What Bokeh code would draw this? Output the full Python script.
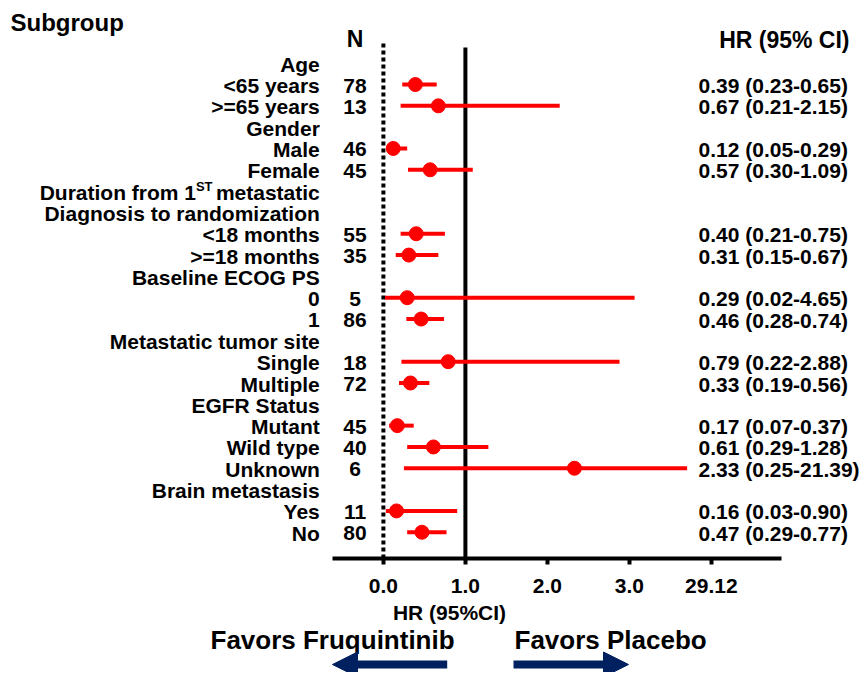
from bokeh.plotting import figure
from bokeh.models import Range1d, LinearAxis, FixedTicker, Arrow, NormalHead, ColumnDataSource
from bokeh.core.properties import value
from bokeh.embed import file_html
from bokeh.resources import INLINE

# ---------------- data ----------------
group_headers = [
    ["Age"],
    ["Gender"],
    ["Duration from 1ST metastatic", "Diagnosis to randomization"],
    ["Baseline ECOG PS"],
    ["Metastatic tumor site"],
    ["EGFR Status"],
    ["Brain metastasis"],
]
group_sizes = [2, 2, 2, 2, 2, 3, 2]
subgroups = ["<65 years", ">=65 years", "Male", "Female", "<18 months", ">=18 months",
             "0", "1", "Single", "Multiple", "Mutant", "Wild type", "Unknown", "Yes", "No"]
n_patients = [78, 13, 46, 45, 55, 35, 5, 86, 18, 72, 45, 40, 6, 11, 80]
hr = [0.39, 0.67, 0.12, 0.57, 0.40, 0.31, 0.29, 0.46, 0.79, 0.33, 0.17, 0.61, 2.33, 0.16, 0.47]
ci_low = [0.23, 0.21, 0.05, 0.30, 0.21, 0.15, 0.02, 0.28, 0.22, 0.19, 0.07, 0.29, 0.25, 0.03, 0.29]
ci_high = [0.65, 2.15, 0.29, 1.09, 0.75, 0.67, 4.65, 0.74, 2.88, 0.56, 0.37, 1.28, 21.39, 0.90, 0.77]
tick_values = [0.0, 1.0, 2.0, 3.0, 29.12]
tick_labels = ["0.0", "1.0", "2.0", "3.0", "29.12"]

# broken axis: linear up to 3, compressed between 3 and 29.12
def axis_pos(v):
    if v <= 3.0:
        return v
    return 3.0 + (v - 3.0) / (29.12 - 3.0)

# ---------------- layout helpers (pixel -> data units) ----------------
W, H = 860, 672
X0, XS = 382.9, 82.0      # x pixel of HR=0, pixels per axis unit
Y0, YS = 62.7, 21.32      # y pixel of row 0, pixels per row

def ux(px):
    return (px - X0) / XS

def ry(py):
    return (py - Y0) / YS

FONT = value("Liberation Sans")
BLACK = "#000000"
NAVY = "#002060"

p = figure(width=W, height=H, output_backend="svg", toolbar_location=None,
           x_range=Range1d(-X0 / XS, (W - X0) / XS),
           y_range=Range1d((H - Y0) / YS, -Y0 / YS),
           x_axis_location=None, y_axis_location=None,
           min_border=0, outline_line_color=None)
p.xgrid.visible = False
p.ygrid.visible = False

# rows
label_rows, label_texts = [], []
sub_rows = []
row = 0
k = 0
for hdr, size in zip(group_headers, group_sizes):
    for line in hdr:
        label_rows.append(row)
        label_texts.append(line)
        row += 1
    for _ in range(size):
        sub_rows.append(row)
        label_rows.append(row)
        label_texts.append(subgroups[k])
        k += 1
        row += 1

LBL_R = ux(319.3)
plain_rows = [r for r, t in zip(label_rows, label_texts) if "1ST" not in t]
plain_texts = [t for t in label_texts if "1ST" not in t]
common = dict(text_font=FONT, text_font_style="bold", text_color=BLACK, text_baseline="middle")
p.text(x=[LBL_R] * len(plain_rows), y=plain_rows, text=plain_texts,
       text_align="right", text_font_size="21px", y_offset=1, **common)

# superscripted header line
for r, t in zip(label_rows, label_texts):
    if "1ST" in t:
        before, after = t.split("1ST")
        p.text(x=[LBL_R], y=[r], text=[after.strip()], text_align="right",
               text_font_size="21px", y_offset=1, **common)
        p.text(x=[ux(212)], y=[r], text=["ST"], text_align="right",
               text_font_size="13px", y_offset=-5, **common)
        p.text(x=[ux(195.5)], y=[r], text=[before + "1"], text_align="right",
               text_font_size="21px", y_offset=1, **common)

# N column
p.text(x=[ux(354.5)], y=[ry(38)], text=["N"], text_align="center", text_font_size="23px", **common)
p.text(x=[ux(354.5)] * len(sub_rows), y=sub_rows, text=[str(n) for n in n_patients],
       text_align="center", text_font_size="21px", y_offset=1, **common)

# HR column
hr_text = [f"{h:.2f} ({lo:.2f}-{hi:.2f})" for h, lo, hi in zip(hr, ci_low, ci_high)]
p.text(x=[ux(849)], y=[ry(39.5)], text=["HR (95% CI)"], text_align="right", text_font_size="23px", **common)
p.text(x=[ux(698)] * len(sub_rows), y=sub_rows, text=hr_text, text_align="left",
       text_font_size="21px", y_offset=1, **common)

# title
p.text(x=[ux(10)], y=[ry(22)], text=["Subgroup"], text_align="left", text_font_size="24px", **common)

# reference lines
axis_row = ry(558)
p.segment(x0=[0], y0=[ry(43)], x1=[0], y1=[axis_row], line_color=BLACK, line_width=4, line_dash="4 3")
p.segment(x0=[1], y0=[ry(47)], x1=[1], y1=[axis_row], line_color=BLACK, line_width=4)

# CIs and points
src = ColumnDataSource(dict(
    y=sub_rows,
    hr=[axis_pos(v) for v in hr],
    lo=[axis_pos(v) for v in ci_low],
    hi=[axis_pos(v) for v in ci_high],
))
p.segment(x0="lo", y0="y", x1="hi", y1="y", source=src, line_color="#ff0000", line_width=4)
p.scatter(x="hr", y="y", source=src, size=14, fill_color="#ff0000", line_color="#ff0000")

# x axis
ticks = [axis_pos(v) for v in tick_values]
xaxis = LinearAxis(fixed_location=axis_row, bounds=(ux(332), ux(781)),
                   ticker=FixedTicker(ticks=ticks),
                   major_label_overrides={t: l for t, l in zip(ticks, tick_labels)},
                   axis_line_width=4, axis_line_color=BLACK,
                   major_tick_line_width=4, major_tick_line_color=BLACK,
                   major_tick_out=6, major_tick_in=0,
                   minor_tick_out=0, minor_tick_in=0,
                   major_label_standoff=14,
                   major_label_text_font="Liberation Sans",
                   major_label_text_font_style="bold",
                   major_label_text_font_size="21px",
                   major_label_text_color=BLACK)
p.add_layout(xaxis, "below")

p.text(x=[ux(449)], y=[ry(612)], text=["HR (95%CI)"], text_align="center", text_font_size="21px", **common)

# favors annotations
p.text(x=[ux(210)], y=[ry(639)], text=["Favors Fruquintinib"], text_align="left", text_font_size="26px", **common)
p.text(x=[ux(514)], y=[ry(639)], text=["Favors Placebo"], text_align="left", text_font_size="26px", **common)

arr_row = ry(664)
p.add_layout(Arrow(end=NormalHead(size=25, fill_color=NAVY, line_color=NAVY),
                   x_start=ux(446.7), y_start=arr_row, x_end=ux(332), y_end=arr_row,
                   line_color=NAVY, line_width=8))
p.add_layout(Arrow(end=NormalHead(size=25, fill_color=NAVY, line_color=NAVY),
                   x_start=ux(513), y_start=arr_row, x_end=ux(628), y_end=arr_row,
                   line_color=NAVY, line_width=8))

open("out.html", "w").write(file_html(p, INLINE))
